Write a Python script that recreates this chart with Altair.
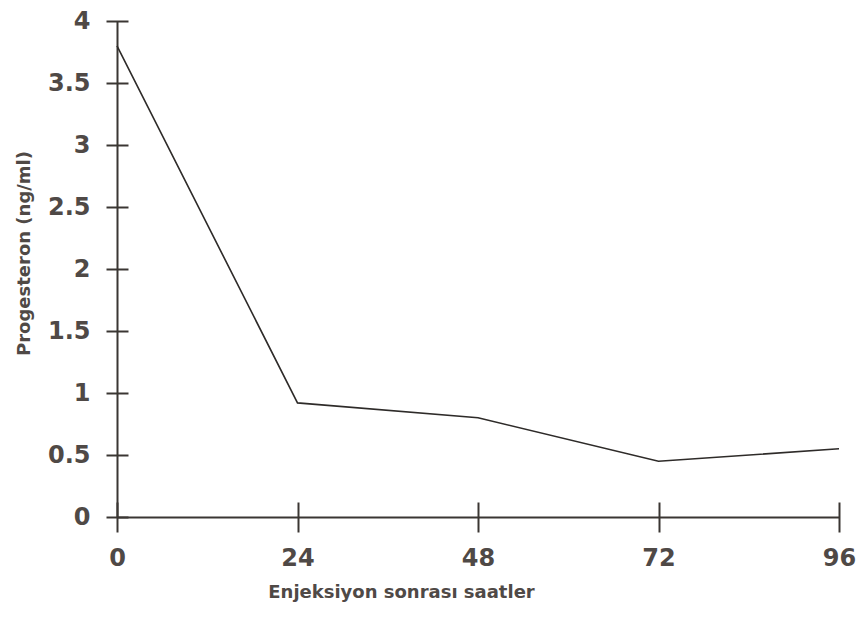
import altair as alt
import pandas as pd

hours = [0, 24, 48, 72, 96]
progesterone = [3.8, 0.92, 0.8, 0.45, 0.55]
x_ticks = [0, 24, 48, 72, 96]
y_ticks = [0, 0.5, 1, 1.5, 2, 2.5, 3, 3.5, 4]

df = pd.DataFrame({"saat": hours, "prog": progesterone})

TXT = "#4f4946"
AX = "#3a3633"
FONT = "DejaVu Sans"

x_scale = alt.Scale(domain=[0, 96], nice=False, zero=False)
y_scale = alt.Scale(domain=[0, 4], nice=False)

main = alt.Chart(df).mark_line(color="#2e2b29", strokeWidth=1.6).encode(
    x=alt.X("saat:Q", scale=x_scale,
            axis=alt.Axis(values=x_ticks, ticks=False, grid=False, domainColor=AX, domainWidth=2,
                          labelFont=FONT, labelFontSize=24, labelColor=TXT, labelFontWeight="bold",
                          labelPadding=29, labelFlush=False,
                          title="Enjeksiyon sonrası saatler", titleFont=FONT, titleFontSize=18,
                          titleColor=TXT, titleFontWeight="bold", titleX=284, titleY=75,
                          titleBaseline="middle", titleAlign="center")),
    y=alt.Y("prog:Q", scale=y_scale,
            axis=alt.Axis(values=y_ticks, ticks=False, grid=False, domainColor=AX, domainWidth=2,
                          labelFont=FONT, labelFontSize=24, labelColor=TXT, labelFontWeight="bold",
                          labelPadding=27, labelFlush=False, format="~g",
                          title="Progesteron (ng/ml)", titleFont=FONT, titleFontSize=18,
                          titleColor=TXT, titleFontWeight="bold", titleX=-93, titleY=232,
                          titleBaseline="middle", titleAlign="center", titleAngle=270)),
)

ticks = alt.Chart(df).mark_point(opacity=0).encode(
    x=alt.X("saat:Q", scale=x_scale,
            axis=alt.Axis(orient="bottom", values=x_ticks, offset=-15, tickSize=30, tickWidth=2,
                          tickColor=AX, domain=False, labels=False, grid=False, title="")),
    y=alt.Y("prog:Q", scale=y_scale,
            axis=alt.Axis(orient="left", values=y_ticks, offset=-11, tickSize=22, tickWidth=2,
                          tickColor=AX, domain=False, labels=False, grid=False, title="")),
)

chart = alt.layer(main, ticks).resolve_axis(x="independent", y="independent").properties(
    width=722, height=496,
    autosize=alt.AutoSizeParams(type="none"),
    padding={"left": 109, "top": 13, "right": 18, "bottom": 95},
    view=alt.ViewBackground(strokeOpacity=0, strokeWidth=0),
).configure_view(strokeOpacity=0, strokeWidth=0).configure(background="white")

chart.save("out.html", embed_options={"renderer": "svg", "actions": False})
